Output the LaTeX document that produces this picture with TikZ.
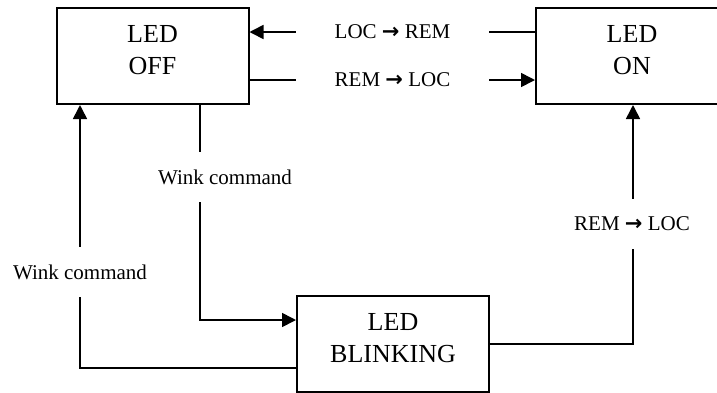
\documentclass[tikz,border=0pt]{standalone}
\usepackage{fontspec}
\setmainfont{Liberation Serif}
\newfontfamily\arrowfont{DejaVu Sans}
\usetikzlibrary{arrows.meta,positioning,calc}
\newcommand{\toarrow}{{\arrowfont\bfseries →}}
\tikzset{
  >={Triangle[length=14pt,width=14pt]},
  statebox/.style={draw, line width=2pt, minimum width=192pt, minimum height=96pt,
    align=center, inner sep=0pt, text depth=12pt, font=\fontsize{26}{32}\selectfont},
  cmd/.style={inner sep=0pt, font=\fontsize{21}{25}\selectfont},
  hcmd/.style={cmd, minimum width=193pt},
  vcmd/.style={cmd, minimum height=50pt},
  flow/.style={line width=1.6pt}
}

\begin{document}
\begin{tikzpicture}[x=1pt,y=-1pt]
  \useasboundingbox (0,0) rectangle (717,392);

  % states
  \node[statebox] (off)   at (152.5,56) {LED\\OFF};
  \node[statebox] (on)    at (632,56)   {LED\\ON};
  \node[statebox] (blink) at (393,344)  {LED\\BLINKING};

  % labels on the connectors
  \node[hcmd] (locrem) at (392.5,32) {LOC \toarrow{} REM};
  \node[hcmd] (remloc) at (392.5,80) {REM \toarrow{} LOC};
  \node[vcmd] (wink1)  at (225,177)  {Wink command};
  \node[vcmd] (wink2)  at (80,272)   {Wink command};
  \node[vcmd] (back)   at (632,224)  {REM \toarrow{} LOC};
  \coordinate (w1x) at (200,0);
  \coordinate (w2x) at (80,0);
  \coordinate (bx)  at (633,0);

  \draw[flow] (on.west |- locrem) -- (locrem.east);
  \draw[flow,->] (locrem.west) -- (off.east |- locrem);
  \draw[flow] (off.east |- remloc) -- (remloc.west);
  \draw[flow,->] (remloc.east) -- (on.west |- remloc);

  \draw[flow] (off.south -| w1x) -- (wink1.north -| w1x);
  \draw[flow,->] (wink1.south -| w1x) |- ($(blink.west)+(0,-24)$);

  \draw[flow] ($(blink.west)+(0,24)$) -| (wink2.south -| w2x);
  \draw[flow,->] (wink2.north -| w2x) -- (off.south -| w2x);

  \draw[flow] (blink.east) -| (back.south -| bx);
  \draw[flow,->] (back.north -| bx) -- (on.south -| bx);
\end{tikzpicture}
\end{document}
